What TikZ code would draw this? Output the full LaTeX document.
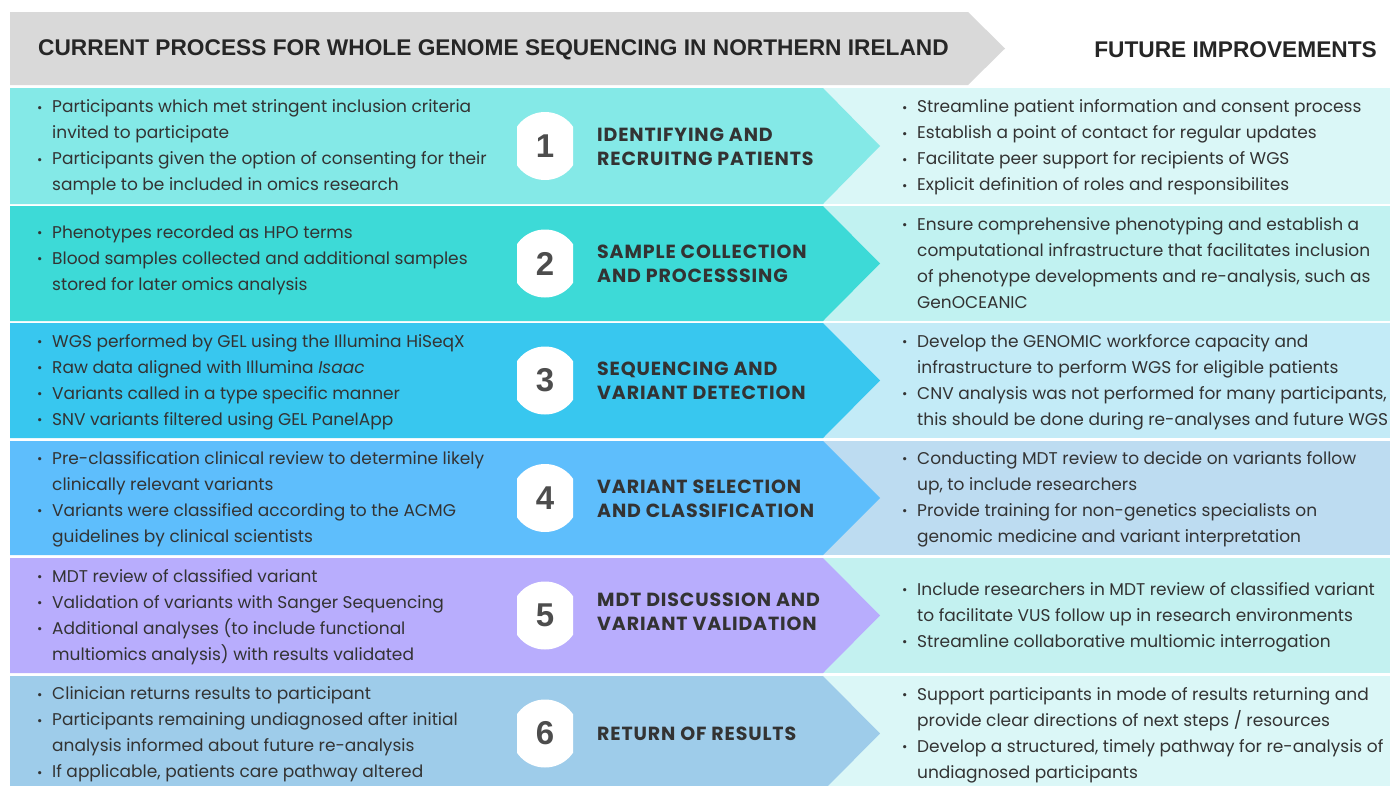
\documentclass[tikz,border=0pt]{standalone}
\usepackage{fontspec}
\setmainfont{Poppins}
\newfontfamily\ttlfont[LetterSpace=4.5]{Poppins}
\newfontfamily\hdrfont{Liberation Sans}
\definecolor{hdrgray}{HTML}{D9D9D9}
\definecolor{txt}{HTML}{333333}
\definecolor{numc}{HTML}{4D4D4D}
\definecolor{rA}{HTML}{84E9E7}\definecolor{rAr}{HTML}{DAF7F7}
\definecolor{rB}{HTML}{3DDAD7}\definecolor{rBr}{HTML}{C1F2F1}
\definecolor{rC}{HTML}{38C7EF}\definecolor{rCr}{HTML}{C3EBF7}
\definecolor{rD}{HTML}{5EBEFC}\definecolor{rDr}{HTML}{BDDCF1}
\definecolor{rE}{HTML}{B8ADFD}\definecolor{rEr}{HTML}{C3F1F0}
\definecolor{rF}{HTML}{9ECCEA}\definecolor{rFr}{HTML}{DBF7F7}
\newcommand\bl{\makebox[15pt][l]{\raisebox{0.5pt}{\fontsize{13}{13}\selectfont •}}}
\newcommand\ind{\hspace*{15pt}}
\newcommand\stepband[5]{% top, bottom, center, left colour, right colour
  \fill[#5] (823,#1) rectangle (1390,#2);
  \fill[#4] (10,#1) -- (823,#1) -- (880,#3) -- (823,#2) -- (10,#2) -- cycle;}
\newcommand\numbadge[3]{% name, center y, digit
  \begin{scope}\clip (517,#2-40) rectangle (573,#2+40);
  \fill[white] (545,#2) circle (34);\end{scope}
  \node[numlabel] (#1) at (545,#2) {#3};}
\tikzset{
  bodytext/.style={anchor=west, inner sep=0pt, text=txt,
    font=\fontsize{17}{26}\selectfont},
  steptitle/.style={anchor=west, inner sep=0pt, text=txt, align=left,
    font=\ttlfont\bfseries\fontsize{19}{24}\selectfont},
  numlabel/.style={inner sep=0pt, text=numc,
    font=\hdrfont\bfseries\fontsize{33}{33}\selectfont},
  hdrtext/.style={inner sep=0pt, text=black!85,
    font=\hdrfont\bfseries\fontsize{22.7}{26}\selectfont}
}
\begin{document}
\begin{tikzpicture}[x=1pt,y=-1pt]
\clip (0,0) rectangle (1390,785);
\fill[white] (0,0) rectangle (1390,785);
% header
\fill[hdrgray] (10,12) -- (968,12) -- (1005,48.5) -- (968,85) -- (10,85) -- cycle;
\node[hdrtext, anchor=west] (hl) at (38,50) {CURRENT PROCESS FOR WHOLE GENOME SEQUENCING IN NORTHERN IRELAND};
\node[hdrtext, anchor=east] (hr) at (1377,50) {FUTURE IMPROVEMENTS};
% bands
\stepband{88}{204}{146}{rA}{rAr}
\stepband{206}{321}{263.5}{rB}{rBr}
\stepband{323}{438}{380.5}{rC}{rCr}
\stepband{441}{555}{498}{rD}{rDr}
\stepband{558}{673}{615.5}{rE}{rEr}
\stepband{676}{791}{733.5}{rF}{rFr}
% badges
\numbadge{n1}{146}{1}
\numbadge{n2}{263.5}{2}
\numbadge{n3}{380.5}{3}
\numbadge{n4}{498}{4}
\numbadge{n5}{615.5}{5}
\numbadge{n6}{733.5}{6}
% titles
\node[steptitle] (t1) at (597,147) {IDENTIFYING AND\\RECRUITNG PATIENTS};
\node[steptitle] (t2) at (597,264) {SAMPLE COLLECTION\\AND PROCESSSING};
\node[steptitle] (t3) at (597,381) {SEQUENCING AND\\VARIANT DETECTION};
\node[steptitle] (t4) at (597,499) {VARIANT SELECTION\\AND CLASSIFICATION};
\node[steptitle] (t5) at (597,612) {MDT DISCUSSION AND\\VARIANT VALIDATION};
\node[steptitle] (t6) at (597,734) {RETURN OF RESULTS};
% left texts
\node[bodytext] (l1) at (37,146.5) {\begin{tabular}{@{}l@{}}
\bl Participants which met stringent inclusion criteria\\
\ind invited to participate\\
\bl Participants given the option of consenting for their\\
\ind sample to be included in omics research\end{tabular}};
\node[bodytext] (l2) at (37,259) {\begin{tabular}{@{}l@{}}
\bl Phenotypes recorded as HPO terms\\
\bl Blood samples collected and additional samples\\
\ind stored for later omics analysis\end{tabular}};
\node[bodytext] (l3) at (37,381) {\begin{tabular}{@{}l@{}}
\bl WGS performed by GEL using the Illumina HiSeqX\\
\bl Raw data aligned with Illumina \textit{Isaac}\\
\bl Variants called in a type specific manner\\
\bl SNV variants filtered using GEL PanelApp\end{tabular}};
\node[bodytext] (l4) at (37,498) {\begin{tabular}{@{}l@{}}
\bl Pre-classification clinical review to determine likely\\
\ind clinically relevant variants\\
\bl Variants were classified according to the ACMG\\
\ind guidelines by clinical scientists\end{tabular}};
\node[bodytext] (l5) at (37,616) {\begin{tabular}{@{}l@{}}
\bl MDT review of classified variant\\
\bl Validation of variants with Sanger Sequencing\\
\bl Additional analyses (to include functional\\
\ind multiomics analysis) with results validated\end{tabular}};
\node[bodytext] (l6) at (37,733.5) {\begin{tabular}{@{}l@{}}
\bl Clinician returns results to participant\\
\bl Participants remaining undiagnosed after initial\\
\ind analysis informed about future re-analysis\\
\bl If applicable, patients care pathway altered\end{tabular}};
% right texts
\node[bodytext] (r1) at (902,146.5) {\begin{tabular}{@{}l@{}}
\bl Streamline patient information and consent process\\
\bl Establish a point of contact for regular updates\\
\bl Facilitate peer support for recipients of WGS\\
\bl Explicit definition of roles and responsibilites\end{tabular}};
\node[bodytext] (r2) at (902,264) {\begin{tabular}{@{}l@{}}
\bl Ensure comprehensive phenotyping and establish a\\
\ind computational infrastructure that facilitates inclusion\\
\ind of phenotype developments and re-analysis, such as\\
\ind GenOCEANIC\end{tabular}};
\node[bodytext] (r3) at (902,381) {\begin{tabular}{@{}l@{}}
\bl Develop the GENOMIC workforce capacity and\\
\ind infrastructure to perform WGS for eligible patients\\
\bl CNV analysis was not performed for many participants,\\
\ind this should be done during re-analyses and future WGS\end{tabular}};
\node[bodytext] (r4) at (902,498) {\begin{tabular}{@{}l@{}}
\bl Conducting MDT review to decide on variants follow\\
\ind up, to include researchers\\
\bl Provide training for non-genetics specialists on\\
\ind genomic medicine and variant interpretation\end{tabular}};
\node[bodytext] (r5) at (902,616) {\begin{tabular}{@{}l@{}}
\bl Include researchers in MDT review of classified variant\\
\ind to facilitate VUS follow up in research environments\\
\bl Streamline collaborative multiomic interrogation\end{tabular}};
\node[bodytext] (r6) at (902,734) {\begin{tabular}{@{}l@{}}
\bl Support participants in mode of results returning and\\
\ind provide clear directions of next steps / resources\\
\bl Develop a structured, timely pathway for re-analysis of\\
\ind undiagnosed participants\end{tabular}};
\end{tikzpicture}
\end{document}
